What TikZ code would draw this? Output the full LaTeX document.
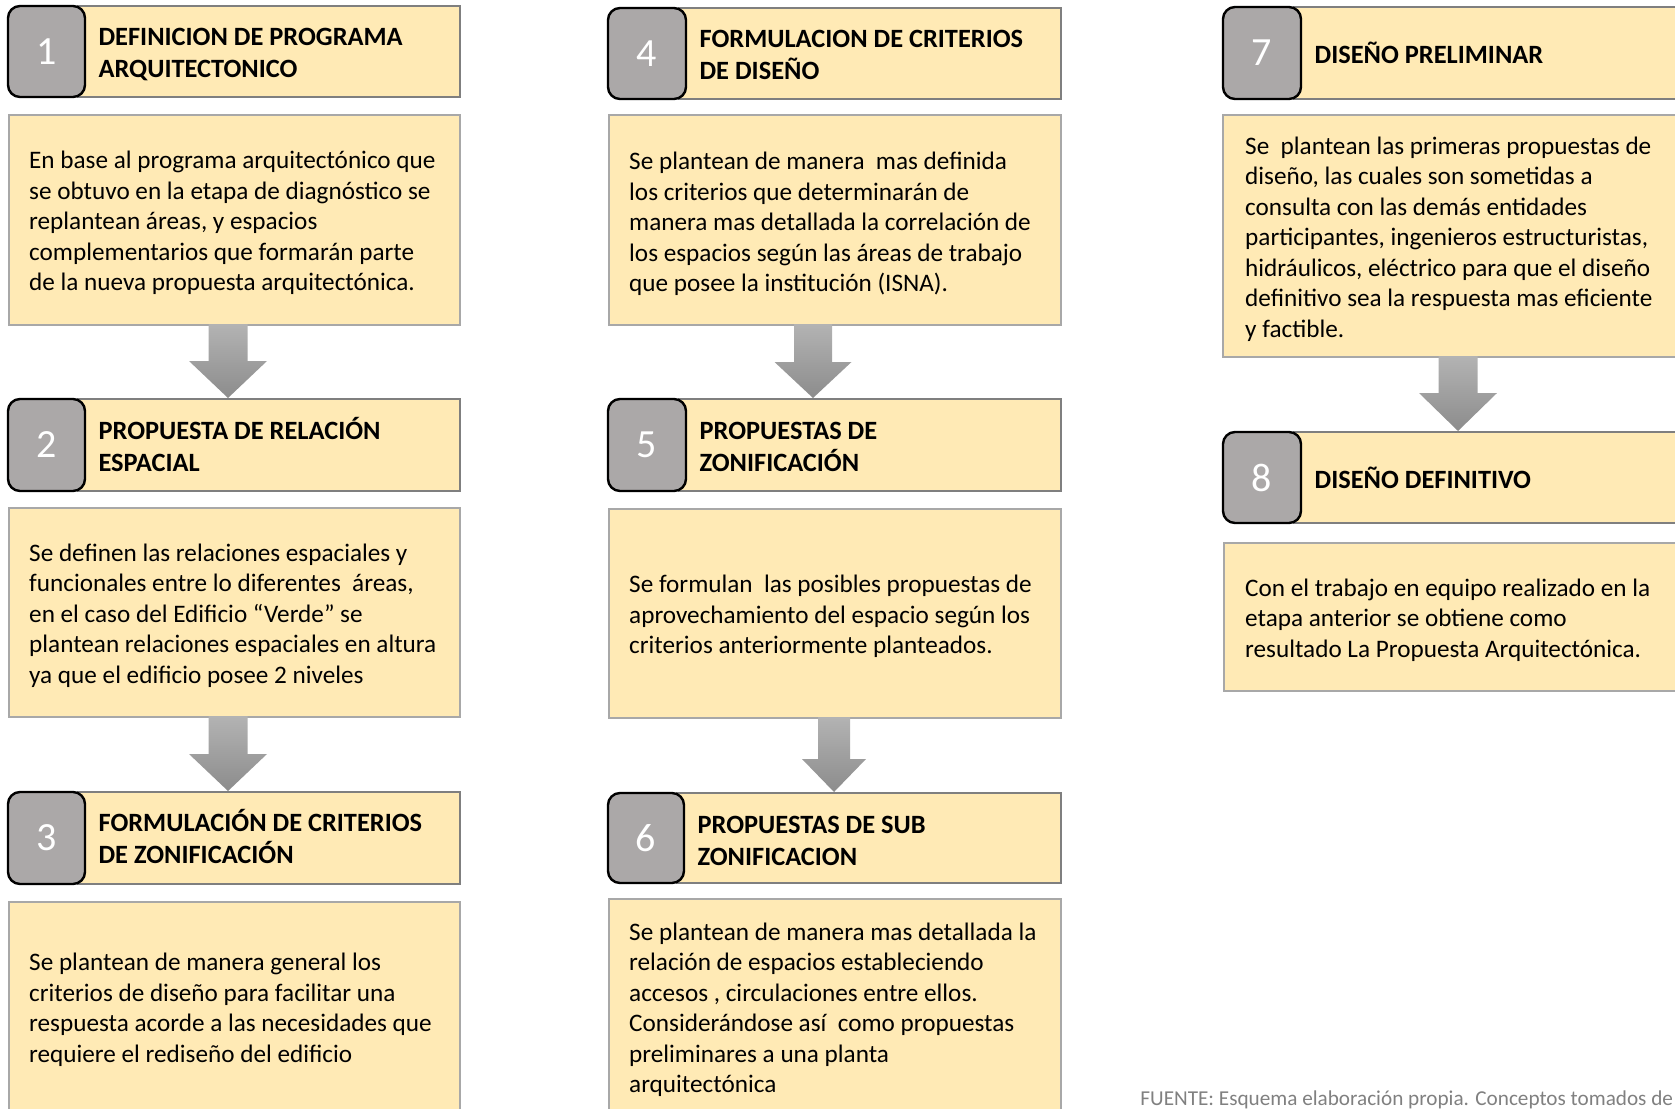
\documentclass[tikz,border=0pt]{standalone}
\usepackage{fontspec}
\setmainfont{Carlito}
\usetikzlibrary{calc}

\definecolor{boxfill}{HTML}{FFEAB5}
\definecolor{titleline}{HTML}{7F7F7F}
\definecolor{bodyline}{HTML}{A8A8A8}
\definecolor{numfill}{HTML}{ABA8A8}
\definecolor{arrowtop}{HTML}{B3B3B3}
\definecolor{arrowbot}{HTML}{8C8C8C}
\definecolor{sourcegray}{HTML}{808080}

\tikzset{
  titlebox/.style={draw=titleline, line width=1pt, fill=boxfill, inner sep=0pt},
  bodybox/.style={draw=bodyline, line width=1.2pt, fill=boxfill, inner sep=0pt},
  numbox/.style={draw=black, line width=1.2pt, fill=numfill, rounded corners=6pt,
    inner sep=0pt, text=white, font=\fontsize{20}{24}\selectfont},
  titletext/.style={anchor=west, inner sep=0pt, align=left,
    font=\fontsize{13.2}{16}\selectfont\bfseries},
  bodytext/.style={anchor=west, inner sep=0pt, align=left,
    font=\fontsize{12.6}{15.25}\selectfont},
  flowarrow/.style={top color=arrowtop, bottom color=arrowbot, draw=none},
  sourcetext/.style={anchor=base west, inner sep=0pt, text=sourcegray,
    font=\fontsize{10.6}{12}\selectfont},
}

% stage heading: name, number, left, number-box right, top, right, bottom
\newcommand\stagetitle[7]{%
  \node[titlebox, minimum width={(#6-#4+7)*0.5pt}, minimum height={(#7-#5)*0.5pt}]
    (#1) at ({(#4-7+#6)/2},{(#5+#7)/2}) {};
  \node[numbox, minimum width={(#4-#3)*0.5pt}, minimum height={(#7-#5)*0.5pt}]
    (#1num) at ({(#3+#4)/2},{(#5+#7)/2}) {#2};}

% stage description box: name, left, top, right, bottom
\newcommand\stagebody[5]{%
  \node[bodybox, minimum width={(#4-#2)*0.5pt}, minimum height={(#5-#3)*0.5pt}]
    (#1) at ({(#2+#4)/2},{(#3+#5)/2}) {};}

% block arrow: from, to, axis x, shaft half width, head half width, head length
\newcommand\blockarrow[6]{%
  \coordinate (axis) at (#3,0);
  \path[flowarrow]
    ($(axis |- #1.south)+(-#4,-2)$) -- ($(axis |- #1.south)+(#4,-2)$)
    -- ($(axis |- #2.north)+(#4,-#6)$) -- ($(axis |- #2.north)+(#5,-#6)$)
    -- (axis |- #2.north)
    -- ($(axis |- #2.north)+(-#5,-#6)$) -- ($(axis |- #2.north)+(-#4,-#6)$)
    -- cycle;}

\begin{document}
\begin{tikzpicture}[x=0.5pt,y=-0.5pt]
\useasboundingbox (0,0) rectangle (1675,1108);
\clip (0,0) rectangle (1675,1108);

% ---------- column 1 ----------
\stagebody{b1}{9}{115}{460}{325}
\stagebody{b2}{9}{508}{460}{717}
\stagebody{b3}{9}{902}{460}{1112}
\stagetitle{t1}{1}{8}{85}{6}{460}{97}
\stagetitle{t2}{2}{8}{85}{399}{460}{491}
\stagetitle{t3}{3}{8}{85}{792}{460}{884}
\blockarrow{b1}{t2}{228}{19.5}{39}{37}
\blockarrow{b2}{t3}{228}{19.5}{39}{37}

\node[titletext] (t1txt) at ($(t1num.east)+(12,3)$) {DEFINICION DE PROGRAMA\\ARQUITECTONICO};
\node[titletext] (t2txt) at ($(t2num.east)+(12,-1)$) {PROPUESTA DE RELACIÓN\\ESPACIAL};
\node[titletext] (t3txt) at ($(t3num.east)+(12,-2)$) {FORMULACIÓN DE CRITERIOS\\DE ZONIFICACIÓN};

\node[bodytext] (b1txt) at ($(b1.west)+(21,3)$) {En base al programa arquitectónico que\\se obtuvo en la etapa de diagnóstico se\\replantean áreas, y espacios\\complementarios que formarán parte\\de la nueva propuesta arquitectónica.};
\node[bodytext] (b2txt) at ($(b2.west)+(21,3)$) {Se definen las relaciones espaciales y\\funcionales entre lo diferentes~ áreas,\\en el caso del Edificio “Verde” se\\plantean relaciones espaciales en altura\\ya que el edificio posee 2 niveles};
\node[bodytext] (b3txt) at ($(b3.west)+(21,3)$) {Se plantean de manera general los\\criterios de diseño para facilitar una\\respuesta acorde a las necesidades que\\requiere el rediseño del edificio};

% ---------- column 2 ----------
\stagebody{b4}{609}{115}{1061}{325}
\stagebody{b5}{609}{509}{1061}{718}
\stagebody{b6}{609}{899}{1061}{1115}
\stagetitle{t4}{4}{608}{686}{8}{1061}{99}
\stagetitle{t5}{5}{608}{686}{399}{1061}{491}
\stagetitle{t6}{6}{608}{684}{793}{1061}{883}
\blockarrow{b4}{t5}{813}{19}{38.5}{36}
\blockarrow{b5}{t6}{834}{16}{32}{33}

\node[titletext] (t4txt) at ($(t4num.east)+(12,1)$) {FORMULACION DE CRITERIOS\\DE DISEÑO};
\node[titletext] (t5txt) at ($(t5num.east)+(12,1.5)$) {PROPUESTAS DE\\ZONIFICACIÓN};
\node[titletext] (t6txt) at ($(t6num.east)+(12,3)$) {PROPUESTAS DE SUB\\ZONIFICACION};

\node[bodytext] (b4txt) at ($(b4.west)+(21,4)$) {Se plantean de manera~ mas definida\\los criterios que determinarán de\\manera mas detallada la correlación de\\los espacios según las áreas de trabajo\\que posee la institución (ISNA).};
\node[bodytext] (b5txt) at ($(b5.west)+(21,3)$) {Se formulan~ las posibles propuestas de\\aprovechamiento del espacio según los\\criterios anteriormente planteados.};
\node[bodytext] (b6txt) at ($(b6.west)+(21,3)$) {Se plantean de manera mas detallada la\\relación de espacios estableciendo\\accesos , circulaciones entre ellos.\\Considerándose así~ como propuestas\\preliminares a una planta\\arquitectónica};

% ---------- column 3 ----------
\stagebody{b7}{1223}{115}{1700}{357}
\stagebody{b8}{1224}{543}{1700}{691}
\stagetitle{t7}{7}{1223}{1301}{7}{1700}{99}
\stagetitle{t8}{8}{1223}{1301}{432}{1700}{523}
\blockarrow{b7}{t8}{1458}{19.5}{39}{38}

\node[titletext] (t7txt) at ($(t7num.east)+(12,0)$) {DISEÑO PRELIMINAR};
\node[titletext] (t8txt) at ($(t8num.east)+(12,0)$) {DISEÑO DEFINITIVO};

\node[bodytext] (b7txt) at ($(b7.west)+(23,3)$) {Se~ plantean las primeras propuestas de\\diseño, las cuales son sometidas a\\consulta con las demás entidades\\participantes, ingenieros estructuristas,\\hidráulicos, eléctrico para que el diseño\\definitivo sea la respuesta mas eficiente\\y factible.};
\node[bodytext] (b8txt) at ($(b8.west)+(22,3)$) {Con el trabajo en equipo realizado en la\\etapa anterior se obtiene como\\resultado La Propuesta Arquitectónica.};

% ---------- source note ----------
\node[sourcetext] (source) at (1140,1105) {FUENTE: Esquema elaboración propia. Conceptos tomados de};
\end{tikzpicture}
\end{document}
